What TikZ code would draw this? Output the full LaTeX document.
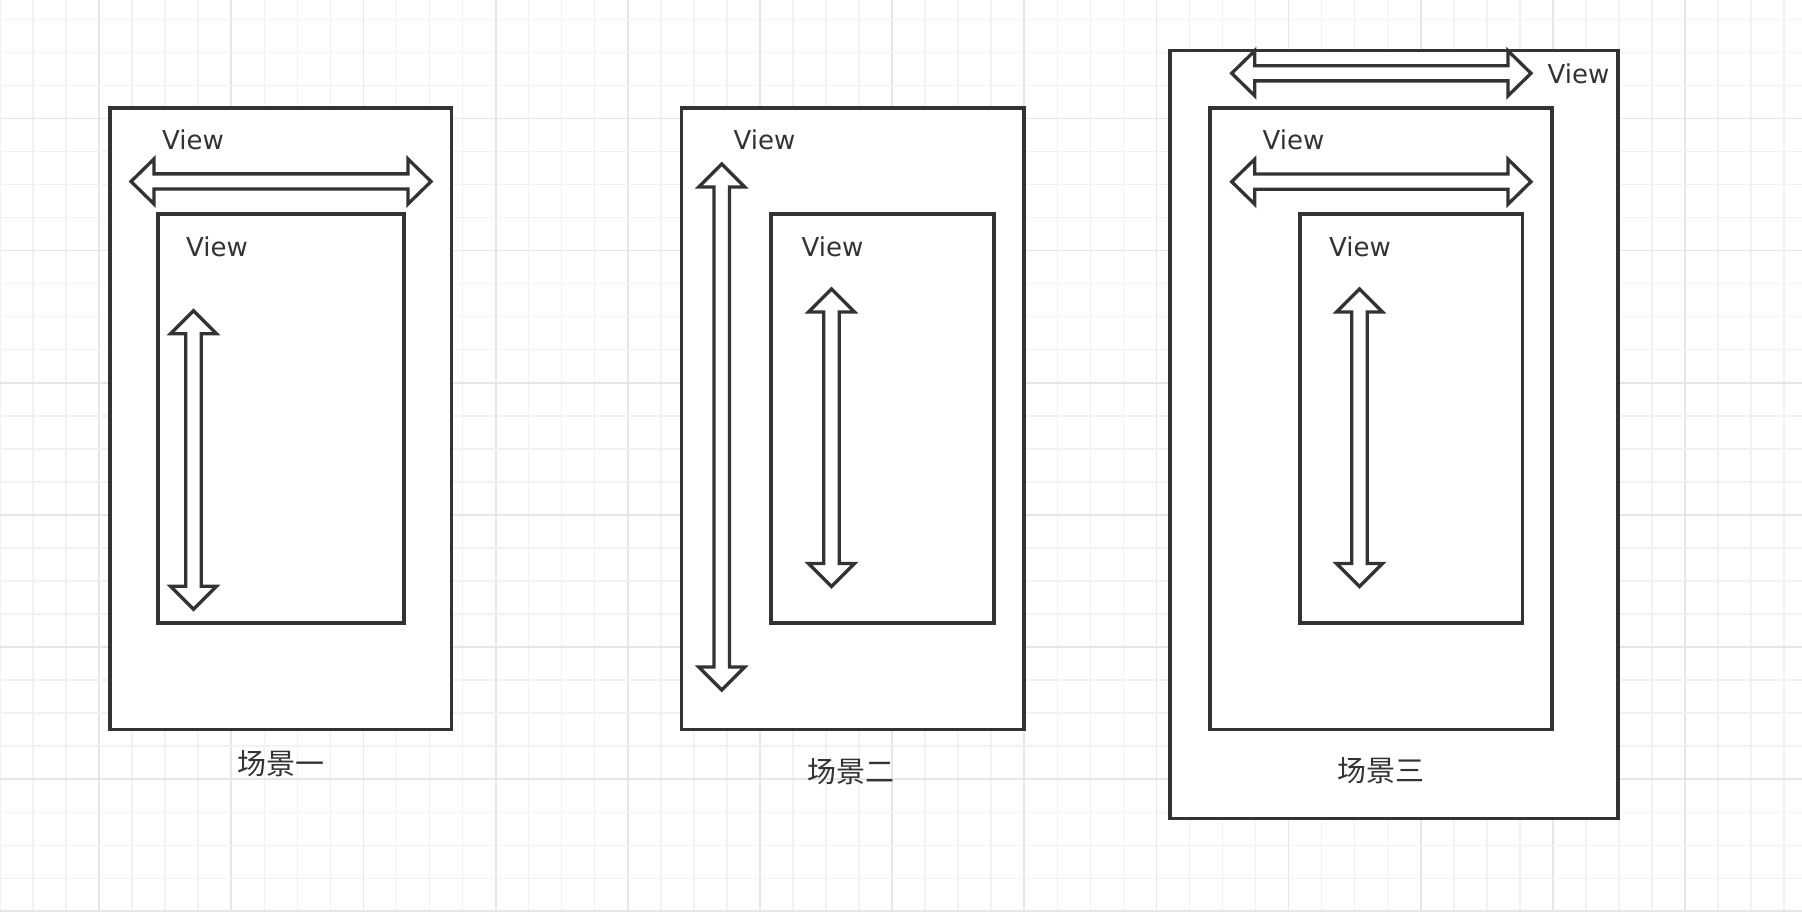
\documentclass[tikz,border=0pt]{standalone}
\usepackage{fontspec}
\setmainfont{DejaVu Sans}
\newfontfamily\cjkfont{Noto Sans CJK SC}
\definecolor{ink}{HTML}{333333}
\definecolor{gridminor}{HTML}{F2F2F2}
\definecolor{gridmajor}{HTML}{E6E6E6}
\tikzset{
  box/.style={draw=ink, line width=3.6pt, fill=white},
  arr/.style={draw=ink, line width=3.3pt, fill=white, line join=miter},
  viewlbl/.style={anchor=base west, inner sep=0pt, text=ink, font=\fontsize{26}{30}\selectfont},
  scenelbl/.style={anchor=center, inner sep=0pt, text=ink, font=\cjkfont\fontsize{29}{34}\selectfont},
}
\newcommand\hdArrowShape[3]{%
  \draw[arr] (#1,#3) -- (#1+23,#3-22.5) -- (#1+23,#3-7.6) -- (#2-23,#3-7.6) -- (#2-23,#3-22.5)
    -- (#2,#3) -- (#2-23,#3+22.5) -- (#2-23,#3+7.6) -- (#1+23,#3+7.6) -- (#1+23,#3+22.5) -- cycle;}
\newcommand\vdArrowShape[3]{%
  \draw[arr] (#1,#2) -- (#1-23,#2+23) -- (#1-7.8,#2+23) -- (#1-7.8,#3-23) -- (#1-23,#3-23)
    -- (#1,#3) -- (#1+23,#3-23) -- (#1+7.8,#3-23) -- (#1+7.8,#2+23) -- (#1+23,#2+23) -- cycle;}
\begin{document}
\begin{tikzpicture}[x=1pt,y=-1pt]
\useasboundingbox (0,0) rectangle (1802,912);
\fill[white] (0,0) rectangle (1802,912);
% grid
\foreach \k in {0,...,54} {
  \pgfmathsetmacro\gx{33.04*\k}
  \pgfmathtruncatemacro\m{mod(\k,4)}
  \ifnum\m=3
    \draw[gridmajor, line width=1.8pt] (\gx,0) -- (\gx,912);
  \else
    \draw[gridminor, line width=1.5pt] (\gx,0) -- (\gx,912);
  \fi
}
\foreach \k in {0,...,27} {
  \pgfmathsetmacro\gy{19.3+33.04*\k}
  \pgfmathtruncatemacro\m{mod(\k,4)}
  \ifnum\m=3
    \draw[gridmajor, line width=1.8pt] (0,\gy) -- (1802,\gy);
  \else
    \draw[gridminor, line width=1.5pt] (0,\gy) -- (1802,\gy);
  \fi
}

% Scene 1
\draw[box] (110,108) rectangle (451.5,729.5);
\draw[box] (158,214) rectangle (404,623);
\hdArrowShape{131}{431}{181.5}
\vdArrowShape{193.5}{310.7}{609.3}
\node[viewlbl] (v1a) at (162,150) {View};
\node[viewlbl] (v1b) at (186,256) {View};
\node[scenelbl] (s1) at (281,764) {场景一};

% Scene 2
\draw[box] (681.5,108) rectangle (1024,729.5);
\draw[box] (771,214) rectangle (994,623);
\vdArrowShape{721.7}{164}{690}
\vdArrowShape{831.5}{289}{586.5}
\node[viewlbl] (v2a) at (733.5,150) {View};
\node[viewlbl] (v2b) at (801.5,256) {View};
\node[scenelbl] (s2) at (850.5,772) {场景二};

% Scene 3
\draw[box] (1170,50.5) rectangle (1618,818.5);
\draw[box] (1210,108) rectangle (1552,729.5);
\draw[box] (1300,214) rectangle (1522.5,623);
\hdArrowShape{1231.7}{1531}{73.3}
\hdArrowShape{1231.7}{1531}{181.7}
\vdArrowShape{1359.5}{289}{586.5}
\node[viewlbl] (v3a) at (1547.5,84) {View};
\node[viewlbl] (v3b) at (1262.5,149.5) {View};
\node[viewlbl] (v3c) at (1329,256) {View};
\node[scenelbl] (s3) at (1381,770.5) {场景三};
\end{tikzpicture}
\end{document}
